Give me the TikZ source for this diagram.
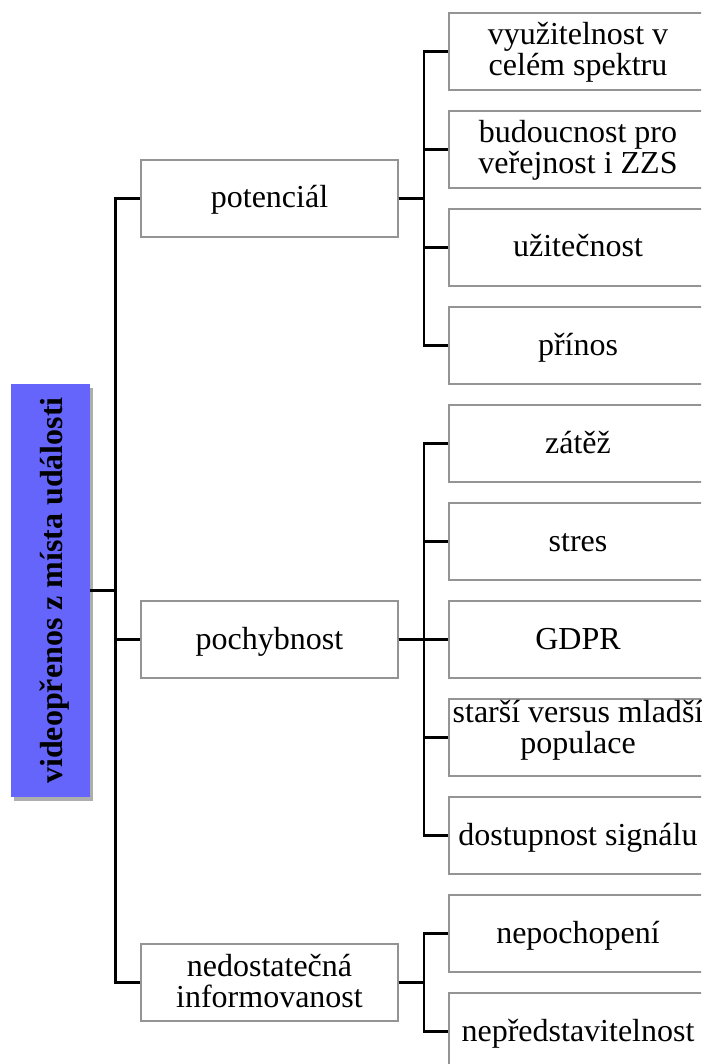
\documentclass[tikz,border=0pt]{standalone}
\usepackage{fontspec}
\setmainfont{Liberation Serif}
\usetikzlibrary{shadows}
\newcommand\twoline[2]{\vbox{\halign{\hfil##\hfil\cr #1\cr #2\cr}}}
\begin{document}
\begin{tikzpicture}[x=1pt,y=-1pt,
  box/.style={draw=black!42,line width=1.1pt,fill=white,inner sep=0pt,
    minimum height=77pt,font=\fontsize{32}{31}\selectfont,text height=26pt,text depth=7pt},
  twolines/.style={text height=56pt,text depth=7pt},
  midbox/.style={box,minimum width=257pt},
  leafbox/.style={box,minimum width=258pt},
  conn/.style={draw=black,line width=2.6pt}
]
\definecolor{rootblue}{HTML}{6565FB}
\useasboundingbox (0,0) rectangle (701,1064);
\begin{scope}
\clip (0,0) rectangle (701,1064);
% root
\node[fill=rootblue,inner sep=0pt,minimum width=79pt,minimum height=413pt,
    drop shadow={shadow xshift=3pt,shadow yshift=-4pt,opacity=0.45,fill=black!70}]
    (root) at (50.5,590.5) {};
\node[rotate=90,font=\fontsize{32}{34}\selectfont\bfseries,inner sep=0pt,
    text height=30pt,text depth=7pt] (roottext) at (root.center) {videopřenos z místa události};
% middle
\node[midbox] (pot) at (269.5,198.5) {potenciál};
\node[midbox] (poch) at (269.5,639.5) {pochybnost};
\node[midbox,twolines] (ned) at (269.5,982.5) {\twoline{nedostatečná}{informovanost}};
% leaves potenciál
\node[leafbox,twolines] (p1) at (578,51.5) {\twoline{využitelnost v}{celém spektru}};
\node[leafbox,twolines] (p2) at (578,149.5) {\twoline{budoucnost pro}{veřejnost i ZZS}};
\node[leafbox] (p3) at (578,247.5) {užitečnost};
\node[leafbox] (p4) at (578,345.5) {přínos};
% leaves pochybnost
\node[leafbox] (q1) at (578,443.5) {zátěž};
\node[leafbox] (q2) at (578,541.5) {stres};
\node[leafbox] (q3) at (578,639.5) {GDPR};
\node[leafbox,text height=38pt,text depth=7pt] (q4) at (578,737.5) {\twoline{starší versus mladší}{populace}};
\node[leafbox] (q5) at (578,835.5) {dostupnost signálu};
% leaves nedostatečná
\node[leafbox] (r1) at (578,933.5) {nepochopení};
\node[leafbox] (r2) at (578,1031.5) {nepředstavitelnost};
% connectors
\foreach \m in {pot,poch,ned}
  \draw[conn] (root.east) -- ++(25.5,0) |- (\m.west);
\foreach \l in {p1,p2,p3,p4}
  \draw[conn] (pot.east) -- ++(25.5,0) |- (\l.west);
\foreach \l in {q1,q2,q3,q4,q5}
  \draw[conn] (poch.east) -- ++(25.5,0) |- (\l.west);
\foreach \l in {r1,r2}
  \draw[conn] (ned.east) -- ++(25.5,0) |- (\l.west);
\end{scope}
\end{tikzpicture}
\end{document}
